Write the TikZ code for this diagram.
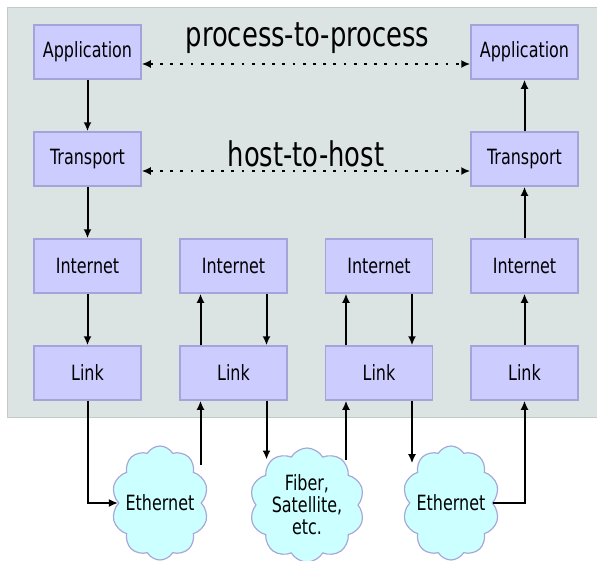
\documentclass[tikz,border=0pt]{standalone}
\usepackage{fontspec}
\setmainfont{DejaVu Sans}[FakeStretch=0.76]
\usepackage{xcolor}
\usetikzlibrary{positioning, arrows.meta, shapes.symbols}

\definecolor{layerfill}{HTML}{CCCCFF}
\definecolor{layerline}{HTML}{A4A4DA}
\definecolor{hostbg}{HTML}{DCE3E3}
\definecolor{hostline}{HTML}{C4CACA}
\definecolor{cloudfill}{HTML}{CCFFFF}
\definecolor{cloudline}{HTML}{A8A8D8}

\tikzset{
  layer/.style={draw=layerline, line width=1.5pt, fill=layerfill, minimum width=107pt, minimum height=54pt, inner sep=0pt, font=\fontsize{21}{22}\selectfont},
  net/.style={cloud, cloud puffs=10, cloud puff arc=120, cloud ignores aspect, draw=cloudline, line width=1.2pt, fill=cloudfill, minimum width=97pt, minimum height=114pt, inner sep=0pt, align=center, font=\fontsize{21}{22}\selectfont},
  flow/.style={line width=2pt, -{Latex[length=9pt,width=8pt]}},
  peer/.style={line width=2.4pt, dash pattern=on 2.8pt off 7.4pt, {Latex[length=9pt,width=8pt]}-{Latex[length=9pt,width=8pt]}},
  span/.style={font=\fontsize{34}{36}\selectfont, anchor=base}
}

\begin{document}
\begin{tikzpicture}[x=1pt, y=-1pt]
\useasboundingbox (0,0) rectangle (597,560);

% hosts and routers
\fill[hostbg, draw=hostline, line width=1pt] (7.5,7.5) rectangle (597,417);

\node [layer] (app1) at (87.5,52) {Application};
\node [layer] (trn1) at (87.5,159) {Transport};
\node [layer] (int1) at (87.5,266) {Internet};
\node [layer] (lnk1) at (87.5,373) {Link};

\node [layer] (int2) at (233.5,266) {Internet};
\node [layer] (lnk2) at (233.5,373) {Link};

\node [layer] (int3) at (379,266) {Internet};
\node [layer] (lnk3) at (379,373) {Link};

\node [layer] (app4) at (524.5,52) {Application};
\node [layer] (trn4) at (524.5,159) {Transport};
\node [layer] (int4) at (524.5,266) {Internet};
\node [layer] (lnk4) at (524.5,373) {Link};

\node [span] (p2p) at (307.5,46.7) {process-to-process};
\node [span] (h2h) at (306,166.7) {host-to-host};

% media
\node [net] (eth1) at (160,503) {Ethernet};
\node [net, minimum width=115pt] (fib) at (307,505) {Fiber,\\Satellite,\\etc.};
\node [net] (eth2) at (451,503) {Ethernet};

\coordinate (up2) at ([xshift=-33pt]lnk2.south);
\coordinate (dn2) at ([xshift=33pt]lnk2.south);
\coordinate (up3) at ([xshift=-33pt]lnk3.south);
\coordinate (dn3) at ([xshift=33pt]lnk3.south);

\draw [peer] ([yshift=-12pt]app1.east) -- ([yshift=-12pt]app4.west);
\draw [peer] ([yshift=-12pt]trn1.east) -- ([yshift=-12pt]trn4.west);

\draw [flow] (app1) -- (trn1);
\draw [flow] (trn1) -- (int1);
\draw [flow] (int1) -- (lnk1);

\draw [flow] ([xshift=-33pt]lnk2.north) -- ([xshift=-33pt]int2.south);
\draw [flow] ([xshift=33pt]int2.south) -- ([xshift=33pt]lnk2.north);
\draw [flow] ([xshift=-33pt]lnk3.north) -- ([xshift=-33pt]int3.south);
\draw [flow] ([xshift=33pt]int3.south) -- ([xshift=33pt]lnk3.north);

\draw [flow] (lnk4) -- (int4);
\draw [flow] (int4) -- (trn4);
\draw [flow] (trn4) -- (app4);

\draw [flow] (lnk1.south) |- (eth1.west);
\draw [flow] (up2 |- eth1.48) -- (up2);
\draw [flow] (dn2) -- (dn2 |- fib.128);
\draw [flow] (up3 |- fib.52) -- (up3);
\draw [flow] (dn3) -- (dn3 |- eth2.130);
\draw [flow] (eth2.east) -| (lnk4.south);
\end{tikzpicture}
\end{document}
